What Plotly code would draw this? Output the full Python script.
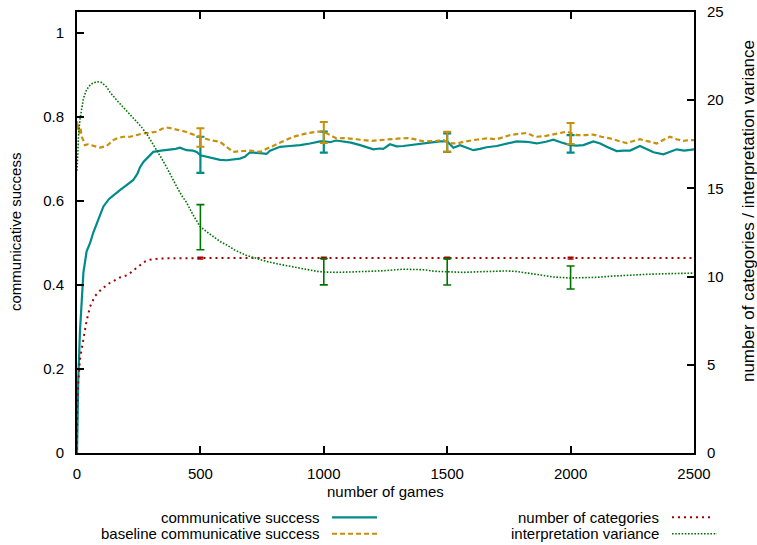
import plotly.graph_objects as go

# ---------------- data ----------------
games_cs = [0, 5, 12, 19, 26, 39, 53, 66, 86, 107, 130, 147, 174, 201, 228, 245, 255, 269, 290, 309,
            340, 377, 400, 417, 444, 470, 485, 500, 525, 552, 580, 606, 630, 660, 680, 701, 741, 768,
            782, 823, 863, 904, 944, 985, 1000, 1025, 1050, 1079, 1110, 1147, 1175, 1201, 1225, 1241,
            1268, 1295, 1322, 1360, 1403, 1440, 1471, 1500, 1525, 1552, 1580, 1606, 1633, 1660, 1701,
            1740, 1782, 1822, 1863, 1900, 1930, 1960, 1998, 2025, 2052, 2092, 2120, 2146, 2187, 2215,
            2241, 2281, 2310, 2336, 2376, 2403, 2430, 2460, 2500]
comm_success = [0, 0.17, 0.29, 0.365, 0.43, 0.48, 0.50, 0.525, 0.555, 0.587, 0.605, 0.614, 0.626, 0.638,
                0.65, 0.665, 0.68, 0.693, 0.705, 0.717, 0.72, 0.722, 0.724, 0.727, 0.721, 0.72, 0.717,
                0.709, 0.706, 0.701, 0.698, 0.697, 0.699, 0.701, 0.705, 0.716, 0.714, 0.712, 0.72, 0.729,
                0.731, 0.733, 0.737, 0.742, 0.742, 0.74, 0.744, 0.742, 0.739, 0.733, 0.727, 0.723, 0.725,
                0.724, 0.735, 0.73, 0.731, 0.734, 0.737, 0.74, 0.742, 0.742, 0.727, 0.733, 0.727, 0.721,
                0.724, 0.728, 0.731, 0.736, 0.742, 0.741, 0.737, 0.741, 0.746, 0.74, 0.733, 0.732, 0.733,
                0.742, 0.737, 0.729, 0.719, 0.72, 0.72, 0.731, 0.724, 0.716, 0.711, 0.717, 0.723, 0.72,
                0.723]

games_bl = [0, 3, 5, 10, 14, 19, 25, 32, 45, 59, 80, 93, 120, 147, 161, 188, 215, 240, 269, 300, 323,
            345, 363, 390, 417, 440, 458, 480, 500, 520, 539, 579, 605, 633, 674, 700, 741, 770, 795,
            836, 876, 930, 971, 991, 1010, 1025, 1052, 1080, 1106, 1133, 1160, 1195, 1228, 1270, 1309,
            1340, 1363, 1403, 1430, 1457, 1484, 1500, 1520, 1539, 1566, 1606, 1633, 1660, 1701, 1728,
            1755, 1790, 1822, 1845, 1863, 1900, 1930, 1960, 1984, 2000, 2025, 2060, 2092, 2125, 2160,
            2195, 2227, 2255, 2281, 2315, 2349, 2375, 2403, 2430, 2457, 2480, 2500]
baseline_success = [0.79, 0.77, 0.784, 0.76, 0.775, 0.753, 0.745, 0.733, 0.735, 0.733, 0.729, 0.727, 0.731,
                    0.745, 0.749, 0.753, 0.753, 0.757, 0.761, 0.763, 0.765, 0.772, 0.775, 0.772, 0.769,
                    0.765, 0.761, 0.757, 0.753, 0.748, 0.745, 0.741, 0.73, 0.717, 0.719, 0.72, 0.717,
                    0.725, 0.731, 0.742, 0.753, 0.761, 0.765, 0.765, 0.762, 0.757, 0.749, 0.75, 0.749,
                    0.747, 0.745, 0.743, 0.745, 0.748, 0.749, 0.75, 0.748, 0.742, 0.742, 0.743, 0.745,
                    0.741, 0.737, 0.737, 0.741, 0.745, 0.747, 0.749, 0.747, 0.752, 0.757, 0.76, 0.762,
                    0.756, 0.753, 0.755, 0.758, 0.761, 0.765, 0.762, 0.757, 0.757, 0.758, 0.753, 0.749,
                    0.743, 0.738, 0.743, 0.747, 0.742, 0.737, 0.745, 0.753, 0.747, 0.743, 0.745, 0.745]

games_cat = [0, 1, 5, 12, 19, 26, 39, 53, 73, 100, 134, 174, 208, 228, 255, 275, 296, 336, 500, 1000,
             1500, 2000, 2500]
num_categories = [0.2, 2.4, 4.0, 5.3, 5.9, 6.5, 7.5, 8.3, 8.9, 9.3, 9.65, 9.95, 10.1, 10.35, 10.63, 10.85,
                  10.96, 11.03, 11.05, 11.05, 11.05, 11.05, 11.05]

games_var = [0, 3, 7, 12, 19, 26, 39, 55, 80, 100, 120, 134, 161, 188, 215, 242, 260, 282, 300, 323, 343,
             363, 384, 404, 424, 444, 470, 498, 525, 552, 579, 606, 640, 687, 741, 768, 820, 876, 930,
             971, 1000, 1050, 1106, 1180, 1241, 1322, 1360, 1403, 1450, 1498, 1566, 1640, 1701, 1740,
             1782, 1820, 1863, 1930, 1998, 2050, 2106, 2170, 2241, 2310, 2376, 2430, 2500]
interp_variance = [16.0, 17.2, 18.2, 18.9, 19.6, 20.1, 20.6, 20.9, 21.05, 21.0, 20.75, 20.45, 20.0, 19.6,
                   19.2, 18.8, 18.5, 18.1, 17.7, 17.2, 16.7, 16.2, 15.6, 15.1, 14.6, 14.2, 13.5, 12.85,
                   12.55, 12.28, 12.0, 11.8, 11.5, 11.2, 10.96, 10.86, 10.7, 10.54, 10.4, 10.3, 10.26,
                   10.24, 10.26, 10.3, 10.33, 10.42, 10.42, 10.39, 10.3, 10.26, 10.24, 10.28, 10.33, 10.32,
                   10.29, 10.2, 10.1, 9.98, 9.92, 9.94, 9.96, 10.03, 10.1, 10.13, 10.16, 10.18, 10.2]

# error bars (at the sampled points)
err_games = [500, 1000, 1500, 2000]
cs_err_center = [0.710, 0.740, 0.739, 0.736]
cs_err = [0.043, 0.025, 0.022, 0.021]
bl_err_center = [0.751, 0.763, 0.741, 0.761]
bl_err = [0.022, 0.025, 0.024, 0.025]
cat_err_center = [11.05, 11.05, 11.05, 11.05]
cat_err = [0.05, 0.05, 0.05, 0.05]
var_err_center = [12.8, 10.28, 10.27, 9.95]
var_err = [1.28, 0.75, 0.75, 0.65]

x_ticks = [0, 500, 1000, 1500, 2000, 2500]
y_ticks = [0, 0.2, 0.4, 0.6, 0.8, 1]
y2_ticks = [0, 5, 10, 15, 20, 25]

legend_labels = ["communicative success", "baseline communicative success",
                 "number of categories", "interpretation variance"]

# ---------------- styling ----------------
TEAL = "#008b8b"
GOLD = "#c8900a"
RED = "#a00000"
GREEN = "#007400"
FONT = "Liberation Sans, Arial, Helvetica, sans-serif"
FS = 15

fig = go.Figure()

fig.add_trace(go.Scatter(x=games_cs, y=comm_success, mode="lines",
                         line=dict(color=TEAL, width=2.2), yaxis="y"))
fig.add_trace(go.Scatter(x=err_games, y=cs_err_center, mode="markers", yaxis="y",
                         marker=dict(size=1, color="rgba(0,0,0,0)"),
                         error_y=dict(type="data", array=cs_err, color=TEAL, thickness=2.2, width=4)))
fig.add_trace(go.Scatter(x=games_bl, y=baseline_success, mode="lines",
                         line=dict(color=GOLD, width=2.2, dash="5px,3px"), yaxis="y"))
fig.add_trace(go.Scatter(x=err_games, y=bl_err_center, mode="markers", yaxis="y",
                         marker=dict(size=1, color="rgba(0,0,0,0)"),
                         error_y=dict(type="data", array=bl_err, color=GOLD, thickness=2, width=4)))
fig.add_trace(go.Scatter(x=games_cat, y=num_categories, mode="lines",
                         line=dict(color=RED, width=2, dash="2px,4px"), yaxis="y2"))
fig.add_trace(go.Scatter(x=err_games, y=cat_err_center, mode="markers", yaxis="y2",
                         marker=dict(size=1, color="rgba(0,0,0,0)"),
                         error_y=dict(type="data", array=cat_err, color=RED, thickness=1.5, width=3)))
fig.add_trace(go.Scatter(x=games_var, y=interp_variance, mode="lines",
                         line=dict(color=GREEN, width=1.6, dash="1.6px,1.6px"), yaxis="y2"))
fig.add_trace(go.Scatter(x=err_games, y=var_err_center, mode="markers", yaxis="y2",
                         marker=dict(size=1, color="rgba(0,0,0,0)"),
                         error_y=dict(type="data", array=var_err, color=GREEN, thickness=1.6, width=4)))

# page geometry (body margin removed by post_script, so figure = page)
W, H = 757, 545
L, R, T, B = 77, 694, 11.5, 453.5


def px(xp):
    return (xp - L) / (R - L)


def py(yp):
    return (B - yp) / (B - T)


annotations = [
    dict(text="number of games", x=px(385), y=py(492), xref="paper", yref="paper",
         showarrow=False, xanchor="center", yanchor="middle", font=dict(size=FS)),
    dict(text="communicative success", x=px(15), y=py(232), xref="paper", yref="paper",
         showarrow=False, xanchor="center", yanchor="middle", textangle=-90, font=dict(size=FS)),
    dict(text="number of categories / interpretation variance", x=px(748), y=py(211),
         xref="paper", yref="paper", showarrow=False, xanchor="center", yanchor="middle",
         textangle=-90, font=dict(size=17)),
]
shapes = []
legend_rows = [
    (legend_labels[0], 321, 332, 377, 518, dict(color=TEAL, width=2.2)),
    (legend_labels[1], 321, 332, 377, 534.5, dict(color=GOLD, width=2, dash="5px,3px")),
    (legend_labels[2], 661, 672, 712, 518, dict(color=RED, width=2, dash="2px,4px")),
    (legend_labels[3], 661, 672, 717, 534.5, dict(color=GREEN, width=1.6, dash="1.6px,1.6px")),
]
for text, tx, x0, x1, yy, ln in legend_rows:
    annotations.append(dict(text=text, x=px(tx), y=py(yy), xref="paper", yref="paper",
                            showarrow=False, xanchor="right", yanchor="middle", font=dict(size=FS)))
    shapes.append(dict(type="line", xref="paper", yref="paper", x0=px(x0), x1=px(x1),
                       y0=py(yy), y1=py(yy), line=ln))

axis_common = dict(showgrid=False, zeroline=False, showline=True, linecolor="black", linewidth=2,
                   ticks="inside", ticklen=7, tickwidth=2, tickcolor="black", automargin=False,
                   ticklabeloverflow="allow", tickfont=dict(size=FS, color="black"))

fig.update_layout(
    width=W, height=H,
    margin=dict(l=L, r=W - R, t=T, b=H - B, pad=0),
    paper_bgcolor="white", plot_bgcolor="white",
    font=dict(family=FONT, size=FS, color="black"),
    showlegend=False,
    xaxis=dict(range=[0, 2500], tickvals=x_ticks, mirror="ticks", ticklabelstandoff=6, **axis_common),
    yaxis=dict(range=[0, 1.05], tickvals=y_ticks, ticklabelstandoff=8, **axis_common),
    yaxis2=dict(range=[0, 25], tickvals=y2_ticks, overlaying="y", side="right",
                ticklabelstandoff=8, **axis_common),
    annotations=annotations,
    shapes=shapes,
)

fig.write_html("out.html", config={"displayModeBar": False},
               post_script="document.body.style.margin='0';document.body.style.overflow='hidden';")
